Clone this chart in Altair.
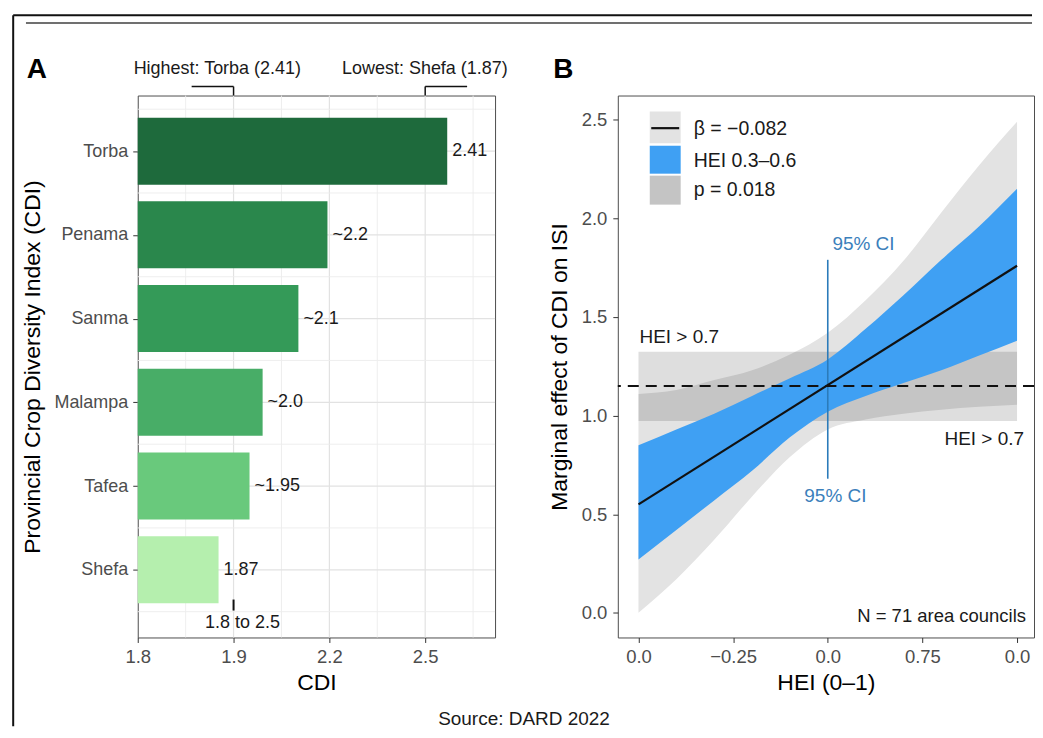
import json
import altair as alt
import pandas as pd

# ---------------- Panel A data ----------------
provinces = ["Torba", "Penama", "Sanma", "Malampa", "Tafea", "Shefa"]
bar_labels = ["2.41", "~2.2", "~2.1", "~2.0", "~1.95", "1.87"]
# bar ends (evenly spaced ticks labelled 1.8/1.9/2.2/2.5)
bar_end = [2.769, 2.394, 2.303, 2.191, 2.150, 2.053]
bar_colors = ["#1e6a3c", "#2a874c", "#349a58", "#48ad67", "#69c97c", "#b5efae"]
cdi_ticks = [1.8, 2.1, 2.4, 2.7]
cdi_tick_labels = ["1.8", "1.9", "2.2", "2.5"]
cdi_minor = [1.95, 2.25, 2.55, 2.85]
cdi_base = 1.8

# ---------------- Panel B data ----------------
hei = [0.0, 0.1, 0.2, 0.3, 0.4, 0.5, 0.6, 0.7, 0.8, 0.9, 1.0]
outer_lo = [0.00, 0.17, 0.37, 0.59, 0.79, 0.93, 0.98, 1.01, 1.03, 1.045, 1.055]
outer_hi = [1.11, 1.13, 1.18, 1.23, 1.31, 1.42, 1.585, 1.785, 2.03, 2.27, 2.49]
blue_lo = [0.27, 0.42, 0.57, 0.72, 0.89, 1.02, 1.10, 1.165, 1.23, 1.305, 1.38]
blue_hi = [0.85, 0.93, 1.01, 1.10, 1.19, 1.285, 1.44, 1.61, 1.79, 1.96, 2.15]
fit_hei = [0.0, 1.0]
fit_val = [0.55, 1.76]
ref_level = [1.15]
band_hei = [0.0, 1.0]
band_val = [0.973, 1.324]
ci_hei = [0.5]
ci_val = [0.68, 1.79]
hei_ticks = [0.0, 0.25, 0.5, 0.75, 1.0]
hei_tick_labels = ["0.0", "\u22120.25", "0.0", "0.75", "0.0"]
isi_ticks = [0.0, 0.5, 1.0, 1.5, 2.0, 2.5]

BLUE = "#3fa0f3"
LGREY = "#e3e3e3"
DGREY = "#c4c4c4"
TXT = "#1a1a1a"
LAB = "#4d4d4d"

WA, WB, H = 358, 417, 543


def one():
    return alt.Chart(pd.DataFrame({"k": [0]}))


def note(text, x, y, size=18, color=TXT, align="center", weight="normal"):
    return one().mark_text(text=text, fontSize=size, color=color, align=align,
                           baseline="middle", fontWeight=weight).encode(
        x=alt.value(x), y=alt.value(y))


def seg(x1, y1, x2, y2, color="#111111", width=1.5):
    return one().mark_rule(color=color, strokeWidth=width).encode(
        x=alt.value(x1), y=alt.value(y1), x2=alt.value(x2), y2=alt.value(y2))


def box(x1, y1, x2, y2, color):
    return one().mark_rect(color=color).encode(
        x=alt.value(x1), x2=alt.value(x2), y=alt.value(y1), y2=alt.value(y2))


common_axis = dict(grid=False, domain=False, tickSize=5, tickColor="#333333",
                   tickWidth=1, labelColor=LAB, labelFlush=False, labelOverlap=False,
                   titleFontSize=23, titleFontWeight="normal", titleColor="#000000",
                   titleBaseline="middle")

# ---------------- Panel A ----------------
xA_scale = alt.Scale(domain=[cdi_base, cdi_base + WA / 320], nice=False, zero=False)
yA_scale = alt.Scale(domain=[-0.664, 5.808], reverse=True, nice=False, zero=False)
step_a = cdi_ticks[1] - cdi_ticks[0]
axA_x = alt.Axis(values=cdi_ticks,
                 labelExpr=f"{json.dumps(cdi_tick_labels)}[round((datum.value - {cdi_base}) / {step_a})]",
                 title="CDI", labelFontSize=18.5, labelPadding=5, titleY=45, **common_axis)
axA_y = alt.Axis(values=list(range(len(provinces))),
                 labelExpr=f"{json.dumps(provinces)}[round(datum.value)]",
                 title="Provincial Crop Diversity Index (CDI)", labelFontSize=18,
                 labelPadding=5, titleX=-105.5, **common_axis)


def XA(f):
    return alt.X(f, type="quantitative", scale=xA_scale, axis=axA_x)


def YA(f):
    return alt.Y(f, type="quantitative", scale=yA_scale, axis=axA_y)


dfA = pd.DataFrame({"province": provinces, "label": bar_labels, "end": bar_end,
                    "idx": list(range(len(provinces))),
                    "base": [cdi_base] * len(provinces)})

gv_major = alt.Chart(pd.DataFrame({"v": cdi_ticks[1:]})).mark_rule(
    color="#e2e2e2", strokeWidth=1.2).encode(x=XA("v"))
gv_minor = alt.Chart(pd.DataFrame({"v": cdi_minor})).mark_rule(
    color="#ececec", strokeWidth=0.9).encode(x=XA("v"))
gh_major = alt.Chart(pd.DataFrame({"v": list(range(len(provinces)))})).mark_rule(
    color="#e2e2e2", strokeWidth=1.2).encode(y=YA("v"))
gh_minor = alt.Chart(pd.DataFrame({"v": [i - 0.5 for i in range(len(provinces) + 1)]})).mark_rule(
    color="#ececec", strokeWidth=0.9).encode(y=YA("v"))

bars = alt.Chart(dfA).transform_calculate(
    ylo="datum.idx - 0.4", yhi="datum.idx + 0.4"
).mark_rect().encode(
    x=XA("base"), x2="end:Q", y=YA("ylo"), y2="yhi:Q",
    color=alt.Color("province:N", scale=alt.Scale(domain=provinces, range=bar_colors),
                    legend=None))

bar_text = alt.Chart(dfA).mark_text(align="left", baseline="middle", dx=5,
                                    fontSize=18, color=TXT).encode(
    x=XA("end"), y=YA("idx"), text="label:N")

panelA = alt.layer(
    gv_minor, gv_major, gh_minor, gh_major, bars, bar_text,
    # figure frame lines
    seg(-124.8, -80.5, 896, -80.5, "#111111", 2),
    seg(-124.8, -80.5, -124.8, 632, "#111111", 2),
    seg(-112, -72.7, 896, -72.7, "#707070", 2),
    # panel letter and top annotations
    note("A", -101, -26, size=28, color="#000000", weight="bold"),
    note("Highest: Torba (2.41)", 79.7, -26.5, size=18),
    note("Lowest: Shefa (1.87)", 287.7, -26.5, size=18),
    seg(54, -9, 96, -9), seg(96, -9, 96, 0),
    seg(288, -9, 330, -9), seg(288, -9, 288, 0),
    seg(96, 505, 96, 516, "#111111", 2),
    note("1.8 to 2.5", 105, 529, size=18),
    note("Source: DARD 2022", 387, 625, size=19),
).properties(width=WA, height=H)

# ---------------- Panel B ----------------
xB_scale = alt.Scale(domain=[-0.0546, -0.0546 + WB / 379.3], nice=False, zero=False)
yB_scale = alt.Scale(domain=[-0.125, 2.623], nice=False, zero=False)
axB_x = alt.Axis(values=hei_ticks,
                 labelExpr=f"{json.dumps(hei_tick_labels, ensure_ascii=False)}[round(datum.value * 4)]",
                 title="HEI (0\u20131)", labelFontSize=18.5, labelPadding=5, titleY=45,
                 **common_axis)
axB_y = alt.Axis(values=isi_ticks, format=".1f", title="Marginal effect of CDI on ISI",
                 labelFontSize=18.5, labelPadding=6, titleX=-58, **common_axis)


def XB(f):
    return alt.X(f, type="quantitative", scale=xB_scale, axis=axB_x)


def YB(f):
    return alt.Y(f, type="quantitative", scale=yB_scale, axis=axB_y)


dfB = pd.DataFrame({"hei": hei, "olo": outer_lo, "ohi": outer_hi,
                    "blo": blue_lo, "bhi": blue_hi})

outer = alt.Chart(dfB).mark_area(color=LGREY, interpolate="monotone").encode(
    x=XB("hei"), y=YB("olo"), y2="ohi:Q")
grey_band = alt.Chart(pd.DataFrame({"x1": [band_hei[0]], "x2": [band_hei[1]],
                                    "lo": [band_val[0]], "hi": [band_val[1]]})).mark_rect(
    color="#000000", opacity=0.13).encode(x=XB("x1"), x2="x2:Q", y=YB("lo"), y2="hi:Q")
blue = alt.Chart(dfB).mark_area(color=BLUE, interpolate="monotone").encode(
    x=XB("hei"), y=YB("blo"), y2="bhi:Q")
ci_rule = alt.Chart(pd.DataFrame({"h": ci_hei, "lo": [ci_val[0]], "hi": [ci_val[1]]})).mark_rule(
    color="#2b7bba", strokeWidth=1.6).encode(x=XB("h"), y=YB("lo"), y2="hi:Q")
fit = alt.Chart(pd.DataFrame({"hei": fit_hei, "val": fit_val})).mark_line(
    color="#111111", strokeWidth=2.2).encode(x=XB("hei"), y=YB("val"))
ref = alt.Chart(pd.DataFrame({"v": ref_level})).mark_rule(
    color="#111111", strokeWidth=2, strokeDash=[11, 7]).encode(y=YB("v"))

panelB = alt.layer(
    outer, grey_band, blue, ci_rule, fit, ref,
    note("95% CI", 215, 149, size=19, color="#3b80bb", align="left"),
    note("95% CI", 218, 401.7, size=19, color="#3b80bb"),
    note("HEI > 0.7", 21.7, 241.7, size=19, align="left"),
    note("HEI > 0.7", 407, 344, size=19, align="right"),
    note("N = 71 area councils", 409, 521, size=18.5, align="right"),
    # legend
    box(32, 16, 63, 47.7, LGREY),
    seg(33.5, 32.7, 61.5, 32.7, "#111111", 2.2),
    box(32, 50.3, 63, 78.3, BLUE),
    box(32, 80.3, 63, 109.3, DGREY),
    note("\u03b2 = \u22120.082", 76, 33.3, size=19.5, align="left"),
    note("HEI 0.3\u20130.6", 76, 66, size=19.5, align="left"),
    note("p = 0.018", 76, 94.3, size=19.5, align="left"),
    note("B", -54.5, -26, size=28, color="#000000", weight="bold"),
).properties(width=WB, height=H)

chart = alt.hconcat(panelA, panelB, spacing=123, bounds="flush").properties(
    padding={"left": 3, "top": 5, "right": -1, "bottom": -2}
).configure(font="Liberation Sans", background="white").configure_view(
    stroke="#4d4d4d", strokeWidth=1)

chart.save("out.html", embed_options={"renderer": "svg", "actions": False})
